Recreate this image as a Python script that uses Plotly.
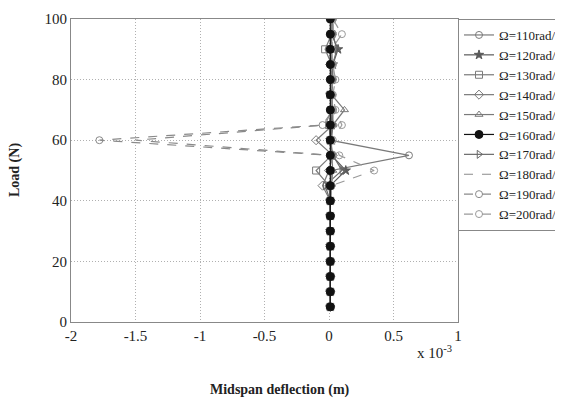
import plotly.graph_objects as go

# Load values (N)
load = [5, 10, 15, 20, 25, 30, 35, 40, 45, 50, 55, 60, 65, 70, 75, 80, 85, 90, 95, 100]

# Midspan deflection in units of 1e-3 m
base = 0.01
d110 = [base]*8 + [0.02, 0.02, 0.62, 0.01, 0.02, 0.02, 0.02, 0.02, 0.02, 0.02, 0.02, 0.02]
d120 = [base]*8 + [0.01, 0.13, 0.02, 0.01, 0.02, 0.02, 0.01, 0.02, 0.03, 0.07, 0.02, 0.02]
d130 = [base]*8 + [0.0, -0.1, 0.02, 0.01, 0.0, 0.02, 0.01, 0.02, 0.02, -0.03, 0.02, 0.02]
d140 = [base]*8 + [-0.05, 0.0, 0.03, -0.1, 0.03, 0.02, 0.02, 0.02, 0.01, 0.01, 0.02, 0.02]
d150 = [base]*8 + [0.0, 0.03, 0.02, 0.02, 0.03, 0.12, 0.02, 0.02, 0.02, 0.02, 0.02, 0.02]
d160 = [base]*20
d170 = [base]*8 + [-0.03, 0.1, 0.03, 0.01, 0.03, 0.03, 0.02, 0.03, 0.03, 0.06, 0.03, 0.03]
d180 = [base]*8 + [0.02, 0.03, 0.02, -1.5, -0.03, 0.02, 0.02, 0.02, 0.02, 0.02, 0.03, 0.02]
d190 = [base]*8 + [0.02, 0.02, 0.01, -1.78, -0.05, 0.03, 0.02, 0.03, 0.03, 0.02, 0.03, 0.03]
d200 = [base]*8 + [0.02, 0.35, 0.08, 0.03, 0.1, 0.05, 0.03, 0.05, 0.03, 0.02, 0.1, 0.03]

names = ["Ω=110rad/s", "Ω=120rad/s", "Ω=130rad/s", "Ω=140rad/s", "Ω=150rad/s",
         "Ω=160rad/s", "Ω=170rad/s", "Ω=180rad/s", "Ω=190rad/s", "Ω=200rad/s"]
x_ticks = [-2, -1.5, -1, -0.5, 0, 0.5, 1]
x_tick_text = ["-2", "-1.5", "-1", "-0.5", "0", "0.5", "1"]
y_ticks = [0, 20, 40, 60, 80, 100]

series = [d110, d120, d130, d140, d150, d160, d170, d180, d190, d200]
styles = [
    dict(dash="solid", symbol="circle-open", color="#7a7a7a"),
    dict(dash="solid", symbol="star", color="#5a5a5a"),
    dict(dash="solid", symbol="square-open", color="#7a7a7a"),
    dict(dash="solid", symbol="diamond-open", color="#7a7a7a"),
    dict(dash="solid", symbol="triangle-up-open", color="#7a7a7a"),
    dict(dash="solid", symbol="circle", color="#111111"),
    dict(dash="solid", symbol="triangle-right-open", color="#6a6a6a"),
    dict(dash="dash", symbol=None, color="#8a8a8a"),
    dict(dash="dash", symbol="circle-open", color="#8a8a8a"),
    dict(dash="dash", symbol="circle-open", color="#9a9a9a"),
]

FONT = "Liberation Serif"
fig = go.Figure()
order = [0, 1, 2, 3, 4, 6, 7, 8, 9, 5]  # draw the black series on top
for i in order:
    name, vals, st = names[i], series[i], styles[i]
    if st["symbol"] is None:
        mode = "lines"
        marker = None
    else:
        mode = "lines+markers"
        marker = dict(symbol=st["symbol"], size=8 if st["symbol"] == "circle" else 7,
                      color=st["color"], line=dict(color=st["color"], width=1))
    fig.add_trace(go.Scatter(x=vals, y=load, name=name, mode=mode, marker=marker,
                             legendrank=i + 1,
                             line=dict(color=st["color"], width=1.2, dash=st["dash"])))

# page has an 8px body margin, so the figure is sized/offset to compensate
fig.update_layout(
    width=555, height=392,
    margin=dict(l=63, r=105, t=11, b=78, autoexpand=False),
    paper_bgcolor="white", plot_bgcolor="white",
    font=dict(family=FONT, size=15, color="#222"),
    legend=dict(x=1.0, y=1.0, xanchor="left", yanchor="top",
                bordercolor="#888", borderwidth=1, bgcolor="white",
                font=dict(family=FONT, size=13, color="#222"),
                itemwidth=30, tracegroupgap=0),
    showlegend=True,
)
fig.update_xaxes(range=[-2, 1], tickvals=x_ticks, ticktext=x_tick_text,
                 showgrid=True, gridcolor="#b0b0b0", griddash="1px,2px", gridwidth=1,
                 showline=True, linecolor="#888", linewidth=1, mirror=True,
                 zeroline=False, ticks="", tickfont=dict(family=FONT, size=15, color="#222"))
fig.update_yaxes(range=[0, 100], tickvals=y_ticks,
                 showgrid=True, gridcolor="#b0b0b0", griddash="1px,2px", gridwidth=1,
                 showline=True, linecolor="#888", linewidth=1, mirror=True,
                 zeroline=False, ticks="", tickfont=dict(family=FONT, size=15, color="#222"))

fig.add_annotation(text="x 10<sup>-3</sup>", xref="paper", yref="paper",
                   x=(434 - 71) / 387, y=-(352 - 322) / 303, showarrow=False,
                   xanchor="center", yanchor="middle",
                   font=dict(family=FONT, size=15, color="#222"))
fig.add_annotation(text="<b>Midspan deflection (m)</b>", xref="paper", yref="paper",
                   x=(280 - 71) / 387, y=-(390 - 322) / 303, showarrow=False,
                   xanchor="center", yanchor="middle",
                   font=dict(family=FONT, size=14, color="#222"))
fig.add_annotation(text="<b>Load (N)</b>", xref="paper", yref="paper",
                   x=-(71 - 15) / 387, y=(322 - 170) / 303, showarrow=False, textangle=-90,
                   xanchor="center", yanchor="middle",
                   font=dict(family=FONT, size=14, color="#222"))

fig.write_html("out.html")
